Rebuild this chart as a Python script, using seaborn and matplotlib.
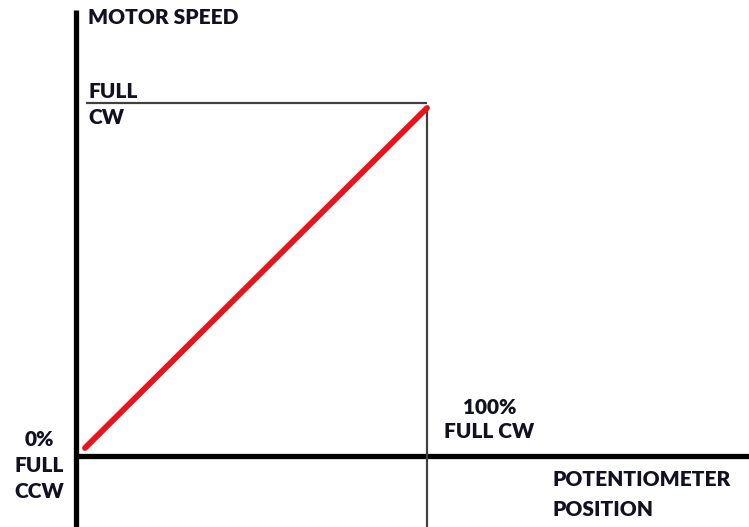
import pandas as pd
import matplotlib
matplotlib.use("Agg")
import matplotlib.pyplot as plt
import seaborn as sns

# data: potentiometer position (%) vs motor speed (% of full CW)
pot_position = [0, 100]
motor_speed = [0, 100]

sns.set_style("white")
plt.rcParams['font.family'] = ['Lato', 'DejaVu Sans']

df = pd.DataFrame({'position': pot_position, 'speed': motor_speed})

fig = plt.figure(figsize=(7.49, 5.27), dpi=100)
ax = fig.add_axes([0, 0, 1, 1])

# pixel -> data mapping (x: 85px = 0, 3.42 px/unit ; y: 448px = 0, 3.4 px/unit)
def px(x, y):
    return (x - 85) / 3.42, (448 - y) / 3.4

ax.set_xlim(px(0, 0)[0], px(749, 0)[0])
ax.set_ylim(px(0, 527)[1], px(0, 0)[1])
ax.axis('off')

# main axes (thick black)
x0, y0 = px(76, 456)
ax.plot([x0, x0], [px(0, 527)[1], px(0, 10)[1]], color='black', lw=3.8, solid_capstyle='butt')
ax.plot([x0, px(749, 0)[0]], [y0, y0], color='black', lw=3.8, solid_capstyle='butt')

# thin guide lines at full CW
top = px(0, 103)[1]
ax.plot([px(86, 0)[0], max(pot_position)], [top, top], color='#404040', lw=1.6, solid_capstyle='butt')
ax.plot([max(pot_position), max(pot_position)], [px(0, 527)[1], px(0, 108)[1]],
        color='#404040', lw=1.6, solid_capstyle='butt')

# red transfer line
sns.lineplot(data=df, x='position', y='speed', ax=ax, color='#e8141c', lw=4.2,
             solid_capstyle='round', legend=False)
ax.set_xlabel('')
ax.set_ylabel('')

txt = dict(color='#111122', fontsize=15, fontweight='heavy')
ax.text(*px(88, 17), 'MOTOR SPEED', ha='left', va='center', **txt)
ax.text(*px(88, 91), 'FULL', ha='left', va='center', **txt)
ax.text(*px(88, 118), 'CW', ha='left', va='center', **txt)
ax.text(*px(39, 440), '0%', ha='center', va='center', **txt)
ax.text(*px(39, 466), 'FULL', ha='center', va='center', **txt)
ax.text(*px(39, 492), 'CCW', ha='center', va='center', **txt)
ax.text(*px(490, 408), '100%', ha='center', va='center', **txt)
ax.text(*px(489, 432), 'FULL CW', ha='center', va='center', **txt)
ax.text(*px(553, 480), 'POTENTIOMETER', ha='left', va='center', **txt)
ax.text(*px(553, 509), 'POSITION', ha='left', va='center', **txt)

fig.savefig('out.png', dpi=100)
